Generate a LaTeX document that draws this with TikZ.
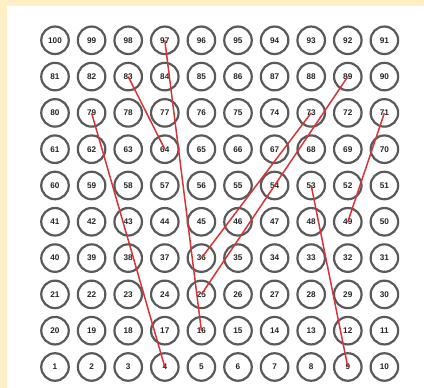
\documentclass[tikz,border=0pt]{standalone}
\usepackage{fontspec}
\setmainfont{Liberation Sans}
\definecolor{fondo}{RGB}{254,239,198}
\definecolor{aro}{RGB}{90,90,90}
\definecolor{rojo}{RGB}{214,52,56}
\usepackage{tikz}
\usetikzlibrary{positioning}

\begin{document}
\begin{tikzpicture}[
    x=1pt, y=1pt,
    casilla/.style={
        circle,
        draw=aro,
        line width=2.2pt,
        fill=white,
        minimum size=27.5pt,
        inner sep=0pt,
        text=black!85,
        font=\fontsize{8.2}{9}\selectfont\bfseries
    },
    salto/.style={
        rojo,
        line width=1.5pt
    }
]

% FONDO
\fill[fondo] (0,0) rectangle (424,388);
\fill[white] (7,0) rectangle (424,382);
\useasboundingbox (0,0) rectangle (424,388);

% TABLERO
\foreach \r in {0,...,9}{
  \foreach \c in {0,...,9}{
    \pgfmathtruncatemacro{\num}{isodd(\r) ? 10*\r+10-\c : 10*\r+\c+1}
    \node[casilla] (n\num) at ({55+36.6*\c},{21+36.3*\r}) {\num};
  }
}

% SALTOS
\draw[salto] (n97.center) -- (n16.center);
\draw[salto] (n83.center) -- (n64.center);
\draw[salto] (n79.center) -- (n4.center);
\draw[salto] (n89.center) -- (n25.center);
\draw[salto] (n73.center) -- (n36.center);
\draw[salto] (n71.center) -- (n49.center);
\draw[salto] (n53.center) -- (n9.center);

\end{tikzpicture}
\end{document}
